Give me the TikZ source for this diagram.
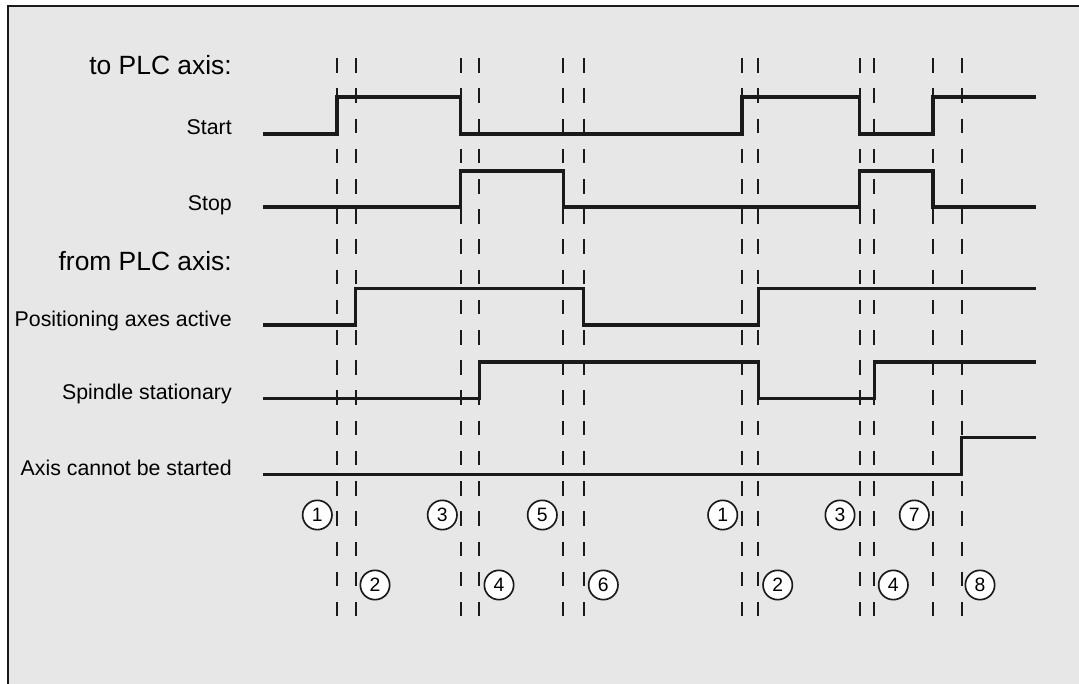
\documentclass[tikz,border=0pt]{standalone}
\usepackage{fontspec}
\setmainfont{Liberation Sans}
\definecolor{ink}{HTML}{1A1A1A}
\definecolor{bg}{HTML}{E7E7E7}
\begin{document}
\begin{tikzpicture}[x=0.75pt,y=-0.75pt,
  sig/.style={line width=2.6pt, draw=ink, line join=miter},
  marker/.style={line width=1.5pt, draw=ink, dash pattern=on 10.9pt off 11.75pt},
  lbl/.style={anchor=base east, font=\fontsize{16}{18}\selectfont, inner sep=0pt, text=black},
  hdr/.style={anchor=base east, font=\fontsize{19.8}{22}\selectfont, inner sep=0pt, text=black},
  num/.style={circle, draw=ink, fill=white, line width=1.25pt, minimum size=22pt, inner sep=0pt, font=\fontsize{14.5}{15}\selectfont}]
\useasboundingbox (0,0) rectangle (1079,684);
\fill[white] (0,0) rectangle (1079,684);
\fill[bg] (8,6.5) rectangle (1079,684);
\draw[line width=1.5pt, ink] (8,684) -- (8,6.5) -- (1079,6.5);

% marker lines
\foreach \x in {337,355.7,460.7,479.3,563.3,583.7,742,758.3,859.5,874.3,932.8,961.7}
  \draw[marker] (\x,58.3) -- (\x,616.7);

% labels
\node[hdr] (hto) at (232,75) {to PLC axis:};
\node[lbl] (lstart) at (232,135) {Start};
\node[lbl] (lstop) at (232,210.5) {Stop};
\node[hdr] (hfrom) at (232,270.7) {from PLC axis:};
\node[lbl] (lpos) at (232,326.7) {Positioning axes active};
\node[lbl] (lspin) at (232,399.5) {Spindle stationary};
\node[lbl] (laxis) at (232,475) {Axis cannot be started};

% signals
\draw[sig] (263,134) -- (337,134) -- (337,97) -- (460.7,97) -- (460.7,134) -- (742,134) -- (742,97) -- (859.5,97) -- (859.5,134) -- (932.8,134) -- (932.8,97) -- (1036,97);
\draw[sig] (263,207) -- (460.7,207) -- (460.7,171) -- (563.3,171) -- (563.3,207) -- (859.5,207) -- (859.5,171) -- (932.8,171) -- (932.8,207) -- (1036,207);
\draw[sig] (263,325) -- (355.7,325) -- (355.7,288.7) -- (583.7,288.7) -- (583.7,325) -- (758.3,325) -- (758.3,288.7) -- (1036,288.7);
\draw[sig] (263,398.3) -- (479.3,398.3) -- (479.3,362) -- (758.3,362) -- (758.3,398.3) -- (874.3,398.3) -- (874.3,362) -- (1036,362);
\draw[sig] (263,474.3) -- (961.7,474.3) -- (961.7,437.7) -- (1036,437.7);

% numbered markers
\node[num] (n1a) at (317.3,515) {1};
\node[num] (n3a) at (442.3,515) {3};
\node[num] (n5a) at (542.3,515) {5};
\node[num] (n1b) at (722.7,515) {1};
\node[num] (n3b) at (840,515) {3};
\node[num] (n7a) at (914.3,515) {7};
\node[num] (n2a) at (375,585) {2};
\node[num] (n4a) at (499,585) {4};
\node[num] (n6a) at (603.3,585) {6};
\node[num] (n2b) at (777.7,585) {2};
\node[num] (n4b) at (893.3,585) {4};
\node[num] (n8a) at (980,585) {8};
\end{tikzpicture}
\end{document}
